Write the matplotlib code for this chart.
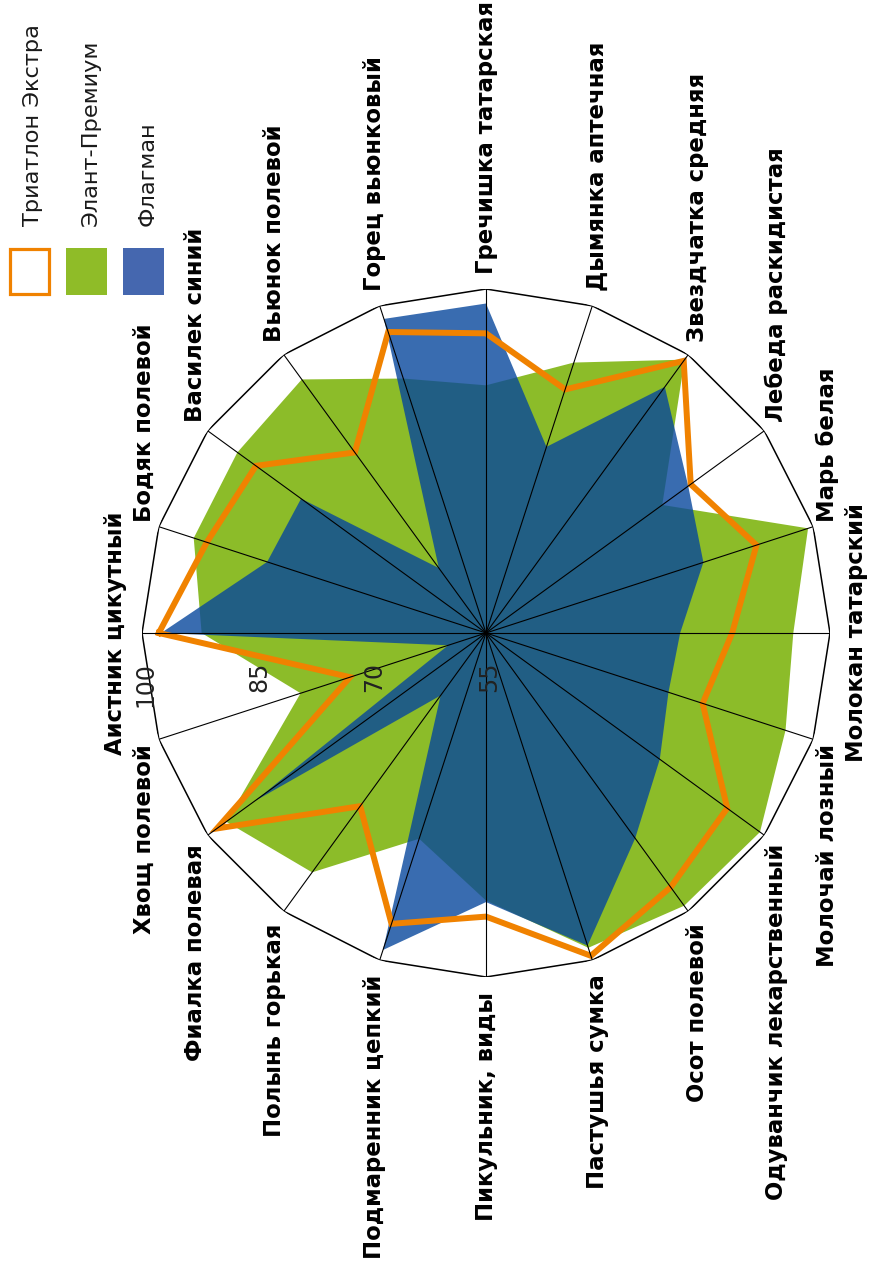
import matplotlib
matplotlib.use('Agg')
import matplotlib.pyplot as plt
import numpy as np
from matplotlib.patches import Rectangle
from matplotlib.transforms import offset_copy

# data
categories = ['Аистник цикутный', 'Бодяк полевой', 'Василек синий', 'Вьюнок полевой',
              'Горец вьюнковый', 'Гречишка татарская', 'Дымянка аптечная',
              'Звездчатка средняя', 'Лебеда раскидистая', 'Марь белая',
              'Молокан татарский', 'Молочай лозный', 'Одуванчик лекарственный',
              'Осот полевой', 'Пастушья сумка', 'Пикульник, виды', 'Подмаренник цепкий',
              'Полынь горькая', 'Фиалка полевая', 'Хвощ полевой']
triatlon = [97.8, 93.4, 92.2, 84.2, 96.4, 94.2, 88.5, 99.0, 88.1, 92.2,
            87.2, 84.8, 94.0, 96.1, 99.4, 92.1, 95.0, 83.0, 98.5, 73.7]
elant = [92.2, 95.2, 95.2, 96.0, 90.0, 87.4, 92.2, 99.2, 83.5, 99.3,
         95.2, 96.2, 99.3, 99.1, 98.3, 90.0, 83.3, 93.7, 97.0, 80.5]
flagman = [97.5, 85.1, 84.9, 65.5, 98.2, 98.1, 80.6, 94.8, 87.7, 84.9,
           80.4, 80.1, 83.1, 88.2, 98.0, 90.2, 98.6, 65.1, 92.5, 60.2]
series_names = ['Триатлон Экстра', 'Элант-Премиум', 'Флагман']
r_ticks = [55, 70, 85, 100]

W, H = 886, 1271
fig = plt.figure(figsize=(W / 100, H / 100), dpi=100)

cx, cy, R = 486, 633, 344
ax = fig.add_axes([(cx - R) / W, (H - cy - R) / H, 2 * R / W, 2 * R / H], projection='polar')
ax.set_theta_offset(np.pi)
ax.set_theta_direction(-1)
ax.set_ylim(55, 100)
ax.set_axis_off()

n = len(categories)
theta = np.arange(n) * 2 * np.pi / n
th_c = np.append(theta, theta[0])

def closed(v):
    return np.append(v, v[0])

# fills
ax.fill(th_c, closed(elant), color='#8CBC29', lw=0, zorder=1)
ax.fill(th_c, closed(flagman), color='#07479C', alpha=0.8, lw=0, zorder=2)
ax.plot(th_c, closed(triatlon), color='#F08200', lw=4.3, zorder=3,
        solid_joinstyle='miter')

# spokes and frame
for t in theta:
    ax.plot([t, t], [55, 100], color='black', lw=0.8, zorder=4)
ax.plot(th_c, [100] * (n + 1), color='black', lw=1.1, zorder=4)

# category labels (whole chart is turned 90 degrees)
for i, (t, name) in enumerate(zip(theta, categories)):
    if i == 0:
        ha, va = 'right', 'center'
    elif i == n // 2:
        ha, va = 'left', 'center'
    elif i < n // 2:
        ha, va = 'center', 'bottom'
    else:
        ha, va = 'center', 'top'
    ax.text(t, 102, name, rotation=90, ha=ha, va=va, fontsize=16.4,
            fontweight='bold', family='DejaVu Sans', zorder=5)

# radial tick labels
tick_tr = offset_copy(ax.transData, fig=fig, x=3, y=-29, units='dots')
for v in r_ticks:
    ax.text(0, v, str(v), rotation=90, ha='center', va='top', fontsize=17,
            transform=tick_tr, color='#222222', zorder=5)

# legend
leg_x = [8, 66, 123]
for x0, name, kind in zip(leg_x, series_names, ['line', 'green', 'blue']):
    if kind == 'line':
        p = Rectangle(((x0 + 1.5) / W, 1 - 293.5 / H), 39 / W, 44 / H,
                      transform=fig.transFigure, facecolor='white',
                      edgecolor='#F08200', lw=2.3)
    else:
        p = Rectangle((x0 / W, 1 - 295 / H), 41 / W, 47 / H,
                      transform=fig.transFigure, lw=0,
                      facecolor='#8FBC28' if kind == 'green' else '#4567AF')
    fig.add_artist(p)
    fig.text((x0 + 25) / W, 1 - 226 / H, name, rotation=90, ha='center',
             va='bottom', fontsize=16.2, color='#1a1a1a')

fig.savefig('out.png', dpi=100)
